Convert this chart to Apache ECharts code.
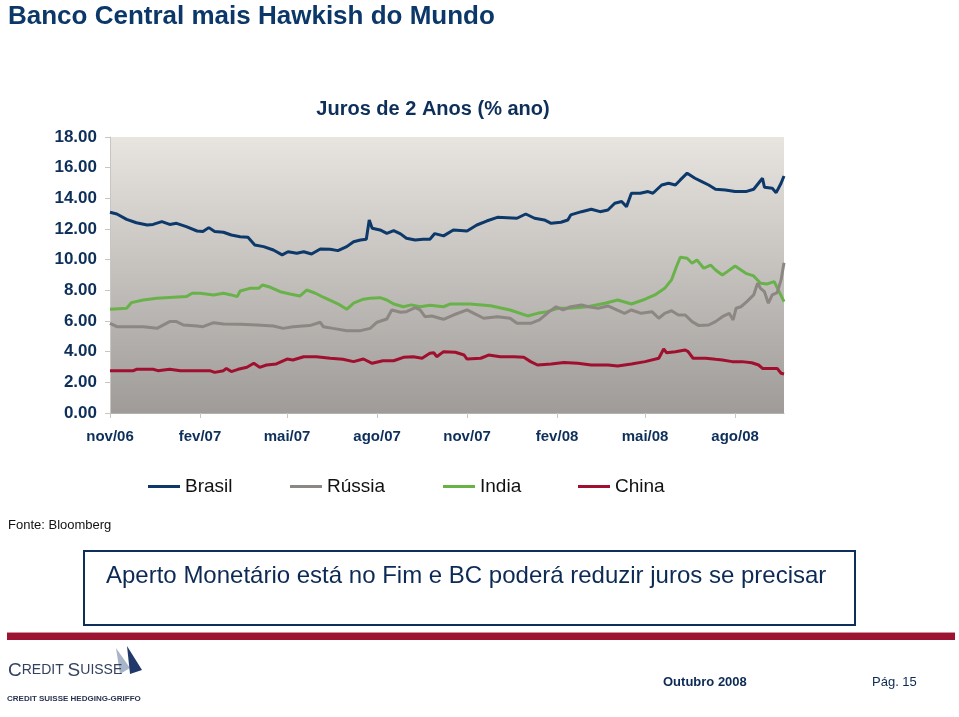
<!DOCTYPE html>
<html>
<head>
<meta charset="utf-8">
<script src="https://cdn.jsdelivr.net/npm/echarts@6/dist/echarts.min.js"></script>
<style>
html,body{margin:0;padding:0;background:#fff;}
#chart{width:959px;height:717px;}
</style>
</head>
<body>
<div id="chart"></div>
<script>
// ---- Data (days since 2006-11-01, yield % a.a.) ----
const startDate = '2006-11-01';
const endDay = 689;
const seriesNames = ['Brasil', 'Rússia', 'India', 'China'];
const seriesColors = ['#0c386a', '#8d8783', '#69b24a', '#a0102e'];

const brasilDays = [0,7,17,27,38,44,53,61,68,78,89,95,101,107,116,124,133,141,148,157,167,176,182,191,198,206,215,225,233,242,249,256,262,265,268,276,283,290,297,303,312,320,327,332,341,351,365,375,385,396,406,416,425,434,444,451,461,468,471,482,492,501,509,516,523,528,533,542,550,555,564,571,578,583,590,598,605,612,619,629,639,650,658,667,669,677,681,686,689];
const brasilVals = [13.09,12.98,12.63,12.41,12.26,12.3,12.48,12.3,12.37,12.15,11.87,11.83,12.09,11.83,11.79,11.61,11.5,11.46,10.96,10.85,10.63,10.31,10.52,10.42,10.52,10.37,10.7,10.68,10.59,10.85,11.17,11.28,11.33,12.59,12.05,11.94,11.72,11.89,11.68,11.4,11.28,11.33,11.33,11.7,11.55,11.94,11.87,12.26,12.52,12.76,12.74,12.7,12.98,12.7,12.59,12.37,12.44,12.59,12.92,13.13,13.29,13.13,13.24,13.68,13.79,13.46,14.33,14.33,14.44,14.33,14.87,14.98,14.87,15.2,15.64,15.31,15.09,14.87,14.59,14.55,14.44,14.44,14.59,15.31,14.72,14.66,14.37,14.98,15.46];

const russiaDays = [0,7,34,48,61,68,75,89,95,106,116,133,150,167,177,187,204,215,218,228,242,256,266,273,283,288,297,303,312,317,322,329,337,341,351,365,372,382,396,409,416,430,439,449,456,463,471,482,489,499,509,518,526,533,543,554,561,567,574,581,588,595,602,612,619,626,633,637,640,645,651,658,662,665,669,673,677,682,686,689];
const russiaVals = [5.85,5.63,5.63,5.52,5.96,5.96,5.74,5.67,5.63,5.89,5.81,5.79,5.74,5.67,5.52,5.63,5.7,5.92,5.63,5.52,5.37,5.37,5.52,5.92,6.13,6.72,6.57,6.61,6.87,6.72,6.28,6.33,6.18,6.11,6.39,6.72,6.5,6.18,6.28,6.18,5.85,5.85,6.07,6.61,6.93,6.72,6.93,7.05,6.93,6.83,6.98,6.72,6.5,6.72,6.5,6.61,6.18,6.5,6.67,6.39,6.39,5.96,5.7,5.74,5.96,6.28,6.5,6.07,6.83,6.93,7.26,7.7,8.46,8.13,7.91,7.16,7.7,7.85,8.68,9.8];

const indiaDays = [0,17,22,34,48,65,78,84,92,106,116,124,130,133,143,152,156,164,174,184,194,201,210,218,228,235,242,249,259,266,276,283,290,300,308,317,327,341,348,368,389,409,427,437,447,458,471,488,506,519,533,547,557,567,574,579,583,590,595,600,607,614,619,626,631,639,650,658,665,672,679,684,689];
const indiaVals = [6.76,6.83,7.2,7.37,7.48,7.55,7.59,7.81,7.81,7.7,7.81,7.7,7.59,7.96,8.13,8.13,8.35,8.2,7.91,7.76,7.63,8.02,7.81,7.55,7.26,7.05,6.76,7.16,7.42,7.48,7.52,7.37,7.11,6.93,7.05,6.93,7.03,6.93,7.11,7.11,7.0,6.72,6.33,6.5,6.61,6.83,6.83,6.93,7.16,7.37,7.11,7.42,7.7,8.13,8.68,9.54,10.16,10.09,9.77,9.98,9.44,9.65,9.33,9.0,9.22,9.59,9.11,8.94,8.46,8.42,8.57,7.91,7.26];

const chinaDays = [0,24,27,44,49,61,72,102,107,116,119,124,131,140,147,153,160,170,181,187,198,211,225,238,249,259,268,279,290,300,310,319,327,331,334,341,353,362,365,379,387,399,413,423,430,437,451,464,478,492,509,519,533,547,561,566,569,578,588,591,596,609,619,626,636,646,656,663,667,682,686,689];
const chinaVals = [2.76,2.76,2.85,2.85,2.76,2.85,2.76,2.76,2.65,2.76,2.91,2.7,2.85,2.98,3.24,2.98,3.13,3.2,3.52,3.46,3.67,3.67,3.57,3.5,3.35,3.52,3.24,3.41,3.41,3.63,3.67,3.57,3.89,3.93,3.67,4.0,3.96,3.78,3.52,3.57,3.78,3.67,3.67,3.63,3.35,3.13,3.2,3.3,3.24,3.13,3.13,3.07,3.2,3.35,3.57,4.17,3.93,4.0,4.11,4.0,3.57,3.57,3.5,3.46,3.35,3.35,3.28,3.13,2.91,2.91,2.59,2.54];

const xTickDates = ['2006-11-01','2007-02-01','2007-05-01','2007-08-01','2007-11-01','2008-02-01','2008-05-01','2008-08-01'];
const xTickLabels = ['nov/06','fev/07','mai/07','ago/07','nov/07','fev/08','mai/08','ago/08'];
const yMin = 0, yMax = 18, yStep = 2;

// ---- Build ----
const DAY = 86400000;
function ts(s){ const p = s.split('-').map(Number); return Date.UTC(p[0], p[1]-1, p[2]); }
const t0 = ts(startDate);
// x in days since start date
function pairs(days, vals){ return days.map((d,i)=>[d, vals[i]]); }
const tickDays = xTickDates.map(s => Math.round((ts(s) - t0) / DAY));

const allDays = [brasilDays, russiaDays, indiaDays, chinaDays];
const allVals = [brasilVals, russiaVals, indiaVals, chinaVals];

const navy = '#0d2f5a';
const FF = "'Liberation Sans', Arial, sans-serif";

const chart = echarts.init(document.getElementById('chart'), null, {renderer:'canvas'});

const legendLefts = [148, 290, 443, 578];
const legends = seriesNames.map((n,i)=>({
  data:[n], left: legendLefts[i], top: 477, padding:0, icon:'rect', itemWidth:32, itemHeight:3,
  textStyle:{fontFamily:FF, fontSize:19, color:'#111'}, selectedMode:false
}));

const option = {
  animation:false,
  backgroundColor:'#ffffff',
  title:[
    {text:'Banco Central mais Hawkish do Mundo', left:3, top:-1,
     textStyle:{fontFamily:FF, fontSize:26, fontWeight:'bold', color:'#0b3769'}},
    {text:'Juros de 2 Anos (% ano)', left:428, top:94, textAlign:'center',
     textStyle:{fontFamily:FF, fontSize:20, fontWeight:'bold', color:navy}}
  ],
  legend: legends,
  grid:{left:110, right:175, top:137, bottom:304, show:true, borderWidth:0,
    backgroundColor:new echarts.graphic.LinearGradient(0,0,0,1,[
      {offset:0, color:'#e8e5e1'},{offset:1, color:'#9e9b98'}])},
  xAxis:{
    type:'value', min:0, max:endDay,
    splitLine:{show:false},
    axisLine:{show:true, lineStyle:{color:'#b5b2ae', width:1}},
    axisTick:{show:true, customValues:tickDays, length:5, lineStyle:{color:'#c8c6c3'}},
    axisLabel:{customValues:tickDays, margin:16, fontFamily:FF, fontSize:15, fontWeight:'bold', color:navy,
      formatter:function(v){ const k = tickDays.indexOf(v); return k>=0 ? xTickLabels[k] : ''; }}
  },
  yAxis:{
    type:'value', min:yMin, max:yMax, interval:yStep,
    splitLine:{show:false},
    axisLine:{show:true, lineStyle:{color:'#c8c6c3', width:1}},
    axisTick:{show:true, length:5, lineStyle:{color:'#c8c6c3'}},
    axisLabel:{margin:13, fontFamily:FF, fontSize:17, fontWeight:'bold', color:navy,
      formatter:function(v){ return v.toFixed(2); }}
  },
  series: seriesNames.map((n,i)=>({
    name:n, type:'line', data:pairs(allDays[i], allVals[i]),
    showSymbol:false, symbol:'none', color:seriesColors[i],
    lineStyle:{width:3, color:seriesColors[i]}, z: 10 - i
  })),
  graphic:[
    {type:'text', left:8, top:519, style:{text:'Fonte: Bloomberg', font:"13px 'Liberation Sans', Arial", fill:'#111'}},
    {type:'rect', shape:{x:84, y:551, width:771, height:74}, style:{fill:'#fff', stroke:'#0d2f5a', lineWidth:2}},
    {type:'text', x:106, y:564, style:{text:'Aperto Monetário está no Fim e BC poderá reduzir juros se precisar', font:"24px 'Liberation Sans', Arial", fill:'#0d2a55'}},
    {type:'rect', shape:{x:7, y:632, width:948, height:8}, style:{fill:'#9b1431'}},
    {type:'rect', shape:{x:7, y:632, width:948, height:1}, style:{fill:'#d7909e'}},
    {type:'polygon', shape:{points:[[116,648],[130,668],[120,674]]}, style:{fill:'#a8b4c7'}},
    {type:'polygon', shape:{points:[[127,646],[142,670],[130,674]]}, style:{fill:'#20396a'}},
    {type:'text', x:8, y:661, style:{
      text:'{b|C}{s|REDIT }{b|S}{s|UISSE}',
      rich:{b:{fontFamily:FF, fontSize:19, fill:'#34425f'}, s:{fontFamily:FF, fontSize:14, fill:'#34425f'}}}},
    {type:'text', x:7, y:695, style:{text:'CREDIT SUISSE HEDGING-GRIFFO', font:"bold 8px 'Liberation Sans', Arial", fill:'#2a3350'}},
    {type:'text', x:663, y:676, style:{text:'Outubro 2008', font:"bold 13px 'Liberation Sans', Arial", fill:'#0d2a55'}},
    {type:'text', x:872, y:676, style:{text:'Pág. 15', font:"13px 'Liberation Sans', Arial", fill:'#0d2a55'}}
  ]
};
chart.setOption(option);
</script>
</body>
</html>
